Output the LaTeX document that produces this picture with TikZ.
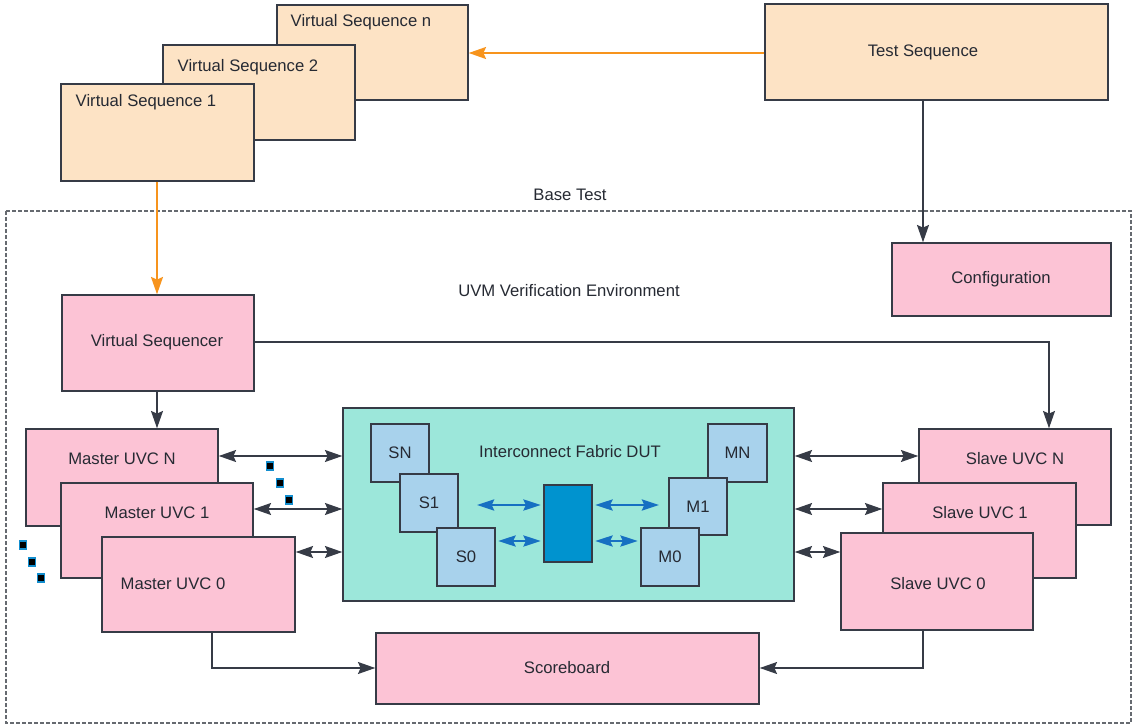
\documentclass[tikz,border=0pt]{standalone}
\usepackage{fontspec}
\setmainfont{Liberation Sans}
\usetikzlibrary{arrows.meta,fit}
\definecolor{bord}{HTML}{363B46}
\definecolor{txt}{HTML}{262A33}
\definecolor{peach}{HTML}{FDE3C5}
\definecolor{pinkb}{HTML}{FCC3D5}
\definecolor{teal}{HTML}{9CE7DA}
\definecolor{lblue}{HTML}{A8D2EC}
\definecolor{dblue}{HTML}{0093CF}
\definecolor{barr}{HTML}{1670C2}
\definecolor{oarr}{HTML}{F7941D}
\definecolor{dashcol}{HTML}{666A70}
\tikzset{
  every node/.style={text=txt,font=\fontsize{12.5}{14}\selectfont},
  box/.style={draw=bord,line width=1.1pt,inner sep=0pt},
  seqbox/.style={box,fill=peach},
  pbox/.style={box,fill=pinkb},
  sbox/.style={box,fill=lblue},
  arr/.style={draw=bord,line width=1pt,-{Stealth[length=13pt,width=9pt,inset=2pt]}},
  darr/.style={draw=bord,line width=1pt,{Stealth[length=13pt,width=9pt,inset=2pt]}-{Stealth[length=13pt,width=9pt,inset=2pt]}},
  bdarr/.style={draw=barr,line width=1.1pt,{Stealth[length=13pt,width=8.5pt,inset=2pt]}-{Stealth[length=13pt,width=8.5pt,inset=2pt]}},
  oarrow/.style={draw=oarr,line width=1.3pt,-{Stealth[length=13pt,width=9pt,inset=2pt]}},
  dotsq/.style={draw=barr!80!cyan,fill=black,line width=1.1pt,minimum width=5pt,minimum height=6pt,inner sep=0pt},
  basebox/.style={draw=dashcol,line width=1pt,dash pattern=on 3pt off 1.5pt},
}
\begin{document}
\begin{tikzpicture}[x=0.75pt,y=-0.75pt]
\useasboundingbox (0,0) rectangle (1136,727);
% dashed base test
\draw[basebox] (6,211) rectangle (1131,723);
\node (basetest) at (570,195) {Base Test};
\node (uvmenv) at (569,291) {UVM Verification Environment};
% virtual sequences
\node[seqbox,fit={(277,5)(468,100)}] (vsn) {};
\node[anchor=west] (vsnt) at (286,22) {Virtual Sequence n};
\node[seqbox,fit={(163,45)(355,140)}] (vs2) {};
\node[anchor=west] (vs2t) at (173,67) {Virtual Sequence 2};
\node[seqbox,fit={(61,84)(254,181)}] (vs1) {};
\node[anchor=west] (vs1t) at (71,102) {Virtual Sequence 1};
\node[seqbox,fit={(765,4)(1108,100)}] (ts) {};
\node (tst) at (923,52) {Test Sequence};
\node[pbox,fit={(892,243)(1111,316)}] (conf) {};
\node (conft) at (1001,279) {Configuration};
\node[pbox,fit={(62,295)(254,391)}] (vsr) {};
\node (vsrt) at (157,342) {Virtual Sequencer};
% master UVCs
\node[pbox,fit={(26,429)(218,526)}] (mn) {};
\node (mnt) at (122,459) {Master UVC N};
\node[pbox,fit={(61,483)(253,578)}] (m1) {};
\node (m1t) at (157,513) {Master UVC 1};
\node[pbox,fit={(102,537)(295,632)}] (m0) {};
\node (m0t) at (173,584) {Master UVC 0};
% slave UVCs
\node[pbox,fit={(919,429)(1111,525)}] (sn) {};
\node (snt) at (1015,459) {Slave UVC N};
\node[pbox,fit={(883,483)(1076,578)}] (sl1) {};
\node (sl1t) at (980,513) {Slave UVC 1};
\node[pbox,fit={(841,533)(1033,630)}] (sl0) {};
\node (sl0t) at (938,584) {Slave UVC 0};
% DUT
\node[box,fill=teal,fit={(343,408)(794,601)}] (dut) {};
\node (dutt) at (570,452) {Interconnect Fabric DUT};
\node[sbox,fit={(371,424)(429,482)}] (dsn) {};
\node (dsnt) at (dsn.center) {SN};
\node[sbox,fit={(400,474)(458,532)}] (ds1) {};
\node (ds1t) at (ds1.center) {S1};
\node[sbox,fit={(437,528)(495,586)}] (ds0) {};
\node (ds0t) at (ds0.center) {S0};
\node[sbox,fit={(708,424)(767,482)}] (dmn) {};
\node (dmnt) at (dmn.center) {MN};
\node[sbox,fit={(669,478)(727,535)}] (dm1) {};
\node (dm1t) at (dm1.center) {M1};
\node[sbox,fit={(641,528)(699,586)}] (dm0) {};
\node (dm0t) at (dm0.center) {M0};
\node[box,fill=dblue,fit={(544,485)(592,562)}] (ctr) {};
% scoreboard
\node[pbox,fit={(376,633)(759,704)}] (sb) {};
\node (sbt) at (567,668) {Scoreboard};
% dots
\node[dotsq] (d1) at (270,466) {};
\node[dotsq] (d2) at (280,483) {};
\node[dotsq] (d3) at (289,500) {};
\node[dotsq] (d4) at (23,545) {};
\node[dotsq] (d5) at (32,562) {};
\node[dotsq] (d6) at (41,578) {};
% helper coordinates
\coordinate (xa) at (923,0);
\coordinate (xb) at (1049,0);
\coordinate (xc) at (212,0);
\coordinate (xd) at (157,0);
\coordinate (ya) at (0,456);
\coordinate (yb) at (0,509);
\coordinate (yc) at (0,552);
\coordinate (yd) at (0,342);
\coordinate (ye) at (0,668);
\coordinate (yg) at (0,53);
\coordinate (bl1) at (477,505);
\coordinate (br1) at (659,505);
\coordinate (yf) at (0,541);
% connectors
\draw[oarrow] (ts.west |- yg) -- (vsn.east |- yg);
\draw[oarrow] (vs1.south -| xd) -- (vsr.north -| xd);
\draw[arr] (ts.south -| xa) -- (conf.north -| xa);
\draw[arr] (vsr.south -| xd) -- (mn.north -| xd);
\draw[arr] (vsr.east |- yd) -| (sn.north -| xb);
\draw[darr] (mn.east |- ya) -- (dut.west |- ya);
\draw[darr] (m1.east |- yb) -- (dut.west |- yb);
\draw[darr] (m0.east |- yc) -- (dut.west |- yc);
\draw[darr] (dut.east |- ya) -- (sn.west |- ya);
\draw[darr] (dut.east |- yb) -- (sl1.west |- yb);
\draw[darr] (dut.east |- yc) -- (sl0.west |- yc);
\draw[bdarr] (bl1) -- ([xshift=-2pt]ctr.west |- bl1);
\draw[bdarr] ([xshift=2pt]ctr.east |- br1) -- (br1);
\draw[bdarr] ([xshift=2pt]ds0.east |- yf) -- ([xshift=-2pt]ctr.west |- yf);
\draw[bdarr] ([xshift=2pt]ctr.east |- yf) -- ([xshift=-2pt]dm0.west |- yf);
\draw[arr] (m0.south -| xc) |- (sb.west |- ye);
\draw[arr] (sl0.south -| xa) |- (sb.east |- ye);
\end{tikzpicture}
\end{document}
